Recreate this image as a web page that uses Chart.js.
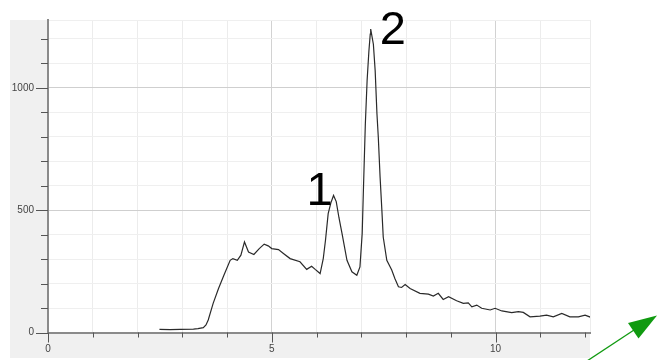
<!DOCTYPE html>
<html>
<head>
<meta charset="utf-8">
<script src="https://cdn.jsdelivr.net/npm/chart.js@4/dist/chart.umd.min.js"></script>
<style>
html,body{margin:0;padding:0;background:#fff;}
#wrap{width:664px;height:360px;}
</style>
</head>
<body>
<div id="wrap"><canvas id="c" width="664" height="360"></canvas></div>
<script>
// Retention time (x) and signal (y)
const times = [2.49,2.73,2.95,3.25,3.35,3.47,3.53,3.58,3.69,3.81,3.93,4.07,4.13,4.23,4.31,4.39,4.48,4.60,4.72,4.83,4.92,5.00,5.15,5.26,5.41,5.63,5.78,5.89,5.97,6.08,6.15,6.20,6.26,6.32,6.38,6.44,6.50,6.57,6.68,6.79,6.90,6.97,7.02,7.05,7.09,7.13,7.17,7.20,7.21,7.27,7.31,7.35,7.38,7.42,7.46,7.49,7.57,7.68,7.75,7.83,7.90,7.98,8.09,8.31,8.50,8.61,8.72,8.83,8.95,9.13,9.28,9.39,9.47,9.58,9.69,9.88,9.99,10.14,10.36,10.51,10.62,10.77,10.99,11.14,11.29,11.48,11.66,11.85,12.00,12.13];
const signal = [13,12,13,14,16,20,31,51,119,180,234,295,302,295,316,370,329,319,343,361,354,343,339,323,302,289,258,271,258,241,302,377,486,530,560,535,470,404,295,248,234,268,405,600,850,1030,1150,1219,1240,1178,1070,893,798,635,499,390,295,255,221,187,184,196,180,160,157,149,160,135,146,130,119,121,105,112,99,92,99,88,81,85,82,64,67,71,64,78,64,64,71,62];
const xLabelTicks = [0,5,10];
const yLabelTicks = [0,500,1000];
const peakLabels = ["1","2"];
const peakTimes = [6.38,7.21];
const peakHeights = [560,1240];

const points = times.map((t,i)=>({x:t,y:signal[i]}));

const bgPlugin = {
  id:'bg',
  beforeDraw(chart){
    const c = chart.ctx, a = chart.chartArea;
    c.save();
    c.fillStyle='#ffffff'; c.fillRect(0,0,chart.width,chart.height);
    c.fillStyle='#f0f0f0'; c.fillRect(10,a.top,a.right-10,358-a.top);
    c.fillStyle='#ffffff'; c.fillRect(a.left,a.top,a.right-a.left,a.bottom-a.top);
    c.restore();
  },
  afterDraw(chart){
    const c = chart.ctx, a = chart.chartArea;
    const xs = chart.scales.x, ys = chart.scales.y;
    c.save();
    c.strokeStyle='#555'; c.lineWidth=1;
    for(let v=0; v<=12; v++){
      const px = Math.round(xs.getPixelForValue(v))+0.5;
      const len = (v%5===0)?10:5;
      c.beginPath(); c.moveTo(px,a.bottom); c.lineTo(px,a.bottom+len); c.stroke();
    }
    for(let v=0; v<=1200; v+=100){
      const py = Math.round(ys.getPixelForValue(v))+0.5;
      const len = (v%500===0)?12:7;
      c.beginPath(); c.moveTo(a.left-len,py); c.lineTo(a.left,py); c.stroke();
    }
    c.fillStyle='#000';
    c.font='47px "Liberation Sans", Arial, sans-serif';
    c.textAlign='left'; c.textBaseline='alphabetic';
    const off = [[-27,10],[9,15]];
    peakLabels.forEach((lab,i)=>{
      const px = xs.getPixelForValue(peakTimes[i]);
      const py = ys.getPixelForValue(peakHeights[i]);
      c.fillText(lab, px+off[i][0], py+off[i][1]);
    });
    c.strokeStyle='#109a10'; c.fillStyle='#109a10'; c.lineWidth=1.3;
    c.beginPath(); c.moveTo(587,361); c.lineTo(634,330); c.stroke();
    c.beginPath(); c.moveTo(657,315.5); c.lineTo(628,323); c.lineTo(638.5,338.5); c.closePath(); c.fill();
    c.restore();
  }
};

const tickFont = {family:'"Liberation Sans", Arial, sans-serif', size:10};

new Chart(document.getElementById('c'), {
  type:'line',
  data:{datasets:[{data:points, borderColor:'#2a2a2a', borderWidth:1.2, pointRadius:0, tension:0, fill:false}]},
  options:{
    responsive:false, animation:false,
    layout:{padding:{left:10,top:19,right:74,bottom:0}},
    plugins:{legend:{display:false}, tooltip:{enabled:false}},
    scales:{
      x:{type:'linear', min:0, max:12.11,
        afterFit(s){ s.height=27.5; },
        ticks:{stepSize:1, autoSkip:false, maxRotation:0, padding:11,
          color:'#444', font:tickFont,
          callback:(v)=> xLabelTicks.includes(v)? String(v):''},
        grid:{drawTicks:false, color:(ctx)=> (ctx.tick && ctx.tick.value%5===0 && ctx.tick.value>0)?'#d2d2d2':'#ececec', lineWidth:1},
        border:{color:'#8a8a8a', width:2}
      },
      y:{type:'linear', min:0, max:1277,
        afterFit(s){ s.width=38; },
        ticks:{stepSize:100, autoSkip:false, padding:14,
          color:'#444', font:tickFont,
          callback:(v)=> yLabelTicks.includes(v)? String(v):''},
        grid:{drawTicks:false, color:(ctx)=> (ctx.tick && ctx.tick.value%500===0 && ctx.tick.value>0)?'#cfcfcf':'#efefef', lineWidth:1},
        border:{color:'#8a8a8a', width:2}
      }
    }
  },
  plugins:[bgPlugin]
});
</script>
</body>
</html>
